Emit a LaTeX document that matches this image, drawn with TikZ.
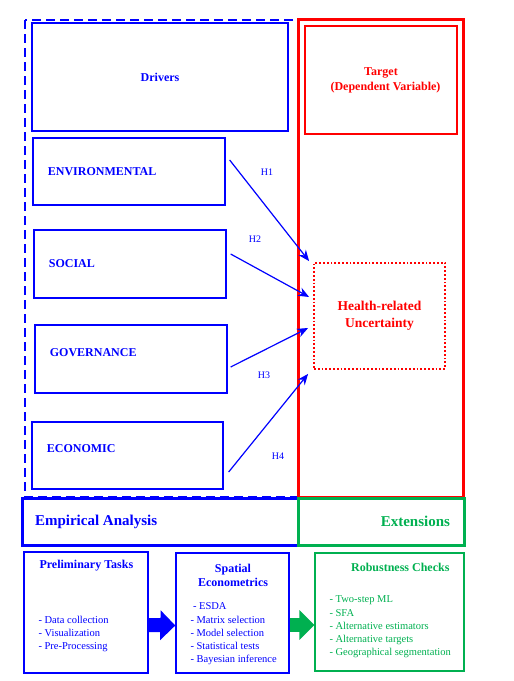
\documentclass[tikz,border=0pt]{standalone}
\usepackage{fontspec}
\setmainfont{Liberation Serif}
\usetikzlibrary{arrows.meta,positioning}
\definecolor{drvblue}{RGB}{0,0,255}
\definecolor{tgtred}{RGB}{255,0,0}
\definecolor{extgreen}{RGB}{0,176,80}

\begin{document}
\begin{tikzpicture}[x=1pt,y=-1pt]
    \tikzset{
        box/.style={draw, line width=1.3pt, inner sep=0pt},
        drvbox/.style={box, drvblue, minimum width=192pt, minimum height=68pt},
        drvlabel/.style={drvblue, font=\fontsize{12}{14}\selectfont\bfseries},
        hyp/.style={-{Stealth[length=11pt,width=9pt]}, line width=1.2pt, drvblue},
        hlabel/.style={drvblue, font=\fontsize{10}{12}\selectfont},
        items/.style={font=\fontsize{10.5}{13.3}\selectfont, align=left, anchor=west},
        block/.style={line width=14pt, -{Triangle[length=15pt,width=29pt]}},
    }
    \useasboundingbox (0,0) rectangle (514,681);

    % Frames
    \draw[drvblue, line width=2.4pt, dash pattern=on 9pt off 5pt] (25,20) rectangle (298,497);
    \draw[tgtred, line width=3pt] (298,19) rectangle (463,497);

    % Drivers (left)
    \node[box, drvblue, minimum width=256pt, minimum height=108pt, drvlabel] (drivers) at (160,77) {Drivers};
    \node[drvbox, minimum height=67pt] (env) at (129,171.5) {};
    \node[drvbox] (soc) at (130,264) {};
    \node[drvbox] (gov) at (131,359) {};
    \node[drvbox, minimum width=191pt, minimum height=67pt] (eco) at (127.5,455.5) {};
    \node[drvlabel, right=12pt of env.west] {ENVIRONMENTAL};
    \node[drvlabel, right=12pt of soc.west] {SOCIAL};
    \node[drvlabel, right=12pt of gov.west, yshift=6pt] {GOVERNANCE};
    \node[drvlabel, right=12pt of eco.west, yshift=6.5pt] {ECONOMIC};

    % Target (right)
    \node[box, tgtred, minimum width=152pt, minimum height=108pt, align=center,
          font=\fontsize{12}{15}\selectfont\bfseries] (target) at (381,80) {Target\\\hspace{9pt}(Dependent Variable)};
    \node[box, tgtred, line width=1.8pt, dotted, minimum width=131pt, minimum height=106pt, align=center,
          font=\fontsize{13.5}{17}\selectfont\bfseries] (health) at (379.5,316) {Health-related\\Uncertainty};

    % Empirical analysis / extensions
    \node[box, drvblue, line width=3pt, minimum width=276pt, minimum height=47pt] (emp) at (160,521.5) {};
    \node[drvblue, font=\fontsize{15}{18}\selectfont\bfseries, right=11pt of emp.west] {Empirical Analysis};
    \node[box, extgreen, line width=3pt, minimum width=166pt, minimum height=47pt] (ext) at (381,521.5) {};
    \node[extgreen, font=\fontsize{15}{18}\selectfont\bfseries, left=12pt of ext.east] {Extensions};

    % Preliminary tasks
    \node[box, drvblue, minimum width=124pt, minimum height=121pt] (prelim) at (86,612.5) {};
    \node[drvlabel, anchor=west] at (36,566) {Preliminary Tasks};
    \node[items, drvblue] at (35,634) {- Data collection\\- Visualization\\- Pre-Processing};

    % Spatial econometrics
    \node[box, drvblue, minimum width=113pt, minimum height=120pt] (spatial) at (232.5,613) {};
    \node[drvlabel, align=center] at (233,575.5) {Spatial\\Econometrics};
    \node[items, drvblue] at (187,634) {\hspace{2.5pt}- ESDA\\- Matrix selection\\- Model selection\\- Statistical tests\\- Bayesian inference};

    % Robustness checks
    \node[box, extgreen, minimum width=149pt, minimum height=118pt] (robust) at (389.5,612) {};
    \node[extgreen, font=\fontsize{12}{14}\selectfont\bfseries, anchor=east] at (453,567) {Robustness Checks};
    \node[items, extgreen] at (326,627) {- Two-step ML\\- SFA\\- Alternative estimators\\- Alternative targets\\- Geographical segmentation};

    % Block arrows
    \draw[block, drvblue] ([yshift=-12.5pt]prelim.east) -- ([yshift=-12.5pt]spatial.west);
    \draw[block, extgreen] ([yshift=-12pt]spatial.east) -- ([yshift=-13pt]robust.west);

    % Hypotheses
    \draw[hyp] ([xshift=4pt,yshift=11.5pt]env.east) -- ([xshift=-4pt,yshift=1pt]health.north west);
    \draw[hyp] ([xshift=4pt,yshift=10pt]soc.east) -- ([xshift=-4pt,yshift=19pt]health.west);
    \draw[hyp] ([xshift=3pt,yshift=-8pt]gov.east) -- ([xshift=-5pt,yshift=-12pt]health.west);
    \draw[hyp] ([xshift=5pt,yshift=-16.5pt]eco.east) -- ([xshift=-5pt,yshift=-4pt]health.south west);
    \node[hlabel] at (267,172) {H1};
    \node[hlabel] at (255,239) {H2};
    \node[hlabel] at (264,375) {H3};
    \node[hlabel] at (278,456) {H4};
\end{tikzpicture}
\end{document}
